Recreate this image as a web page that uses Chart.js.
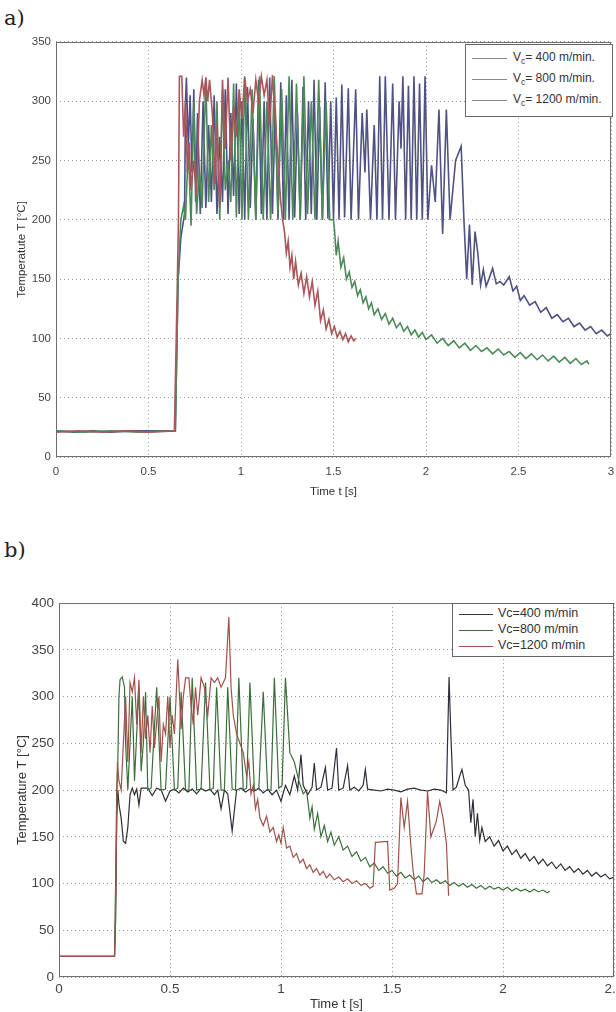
<!DOCTYPE html>
<html lang="en">
<head>
<meta charset="UTF-8">
<title>Temperature vs time</title>
<script src="https://cdn.jsdelivr.net/npm/chart.js@4.4.0/dist/chart.umd.min.js"></script>
<style>
  html, body { margin: 0; padding: 0; background: #fff; overflow: hidden; width: 616px; height: 1012px; }
  .wrap { position: absolute; left: 0; width: 630px; }
  .tag { position: absolute; left: 4px; font: 21px "DejaVu Serif", "Liberation Serif", serif; color: #222; }
  .legend { position: absolute; background: #fff; border: 1px solid #666; font-family: "Liberation Sans", Arial, sans-serif; color: #333; }
  .legend div { position: relative; white-space: nowrap; }
  .legend span.ln { position: absolute; height: 0; border-top: 1px solid #888; }
  sub { font-size: 70%; vertical-align: -3px; line-height: 0; }
</style>
</head>
<body>
<div class="tag" style="top:6px">a)</div>
<div class="wrap" style="top:30px;height:469px"><canvas id="chartA"></canvas></div>
<div class="legend" style="left:465px;top:44px;width:146px;height:71px;font-size:12px">
  <div style="top:5px"><span class="ln" style="left:6px;width:35px;top:8px"></span><span style="position:absolute;left:47px">V<sub>c</sub>= 400 m/min.</span></div>
  <div style="top:26px"><span class="ln" style="left:6px;width:35px;top:8px"></span><span style="position:absolute;left:47px">V<sub>c</sub>= 800 m/min.</span></div>
  <div style="top:47px"><span class="ln" style="left:6px;width:35px;top:8px"></span><span style="position:absolute;left:47px">V<sub>c</sub>= 1200 m/min.</span></div>
</div>

<div class="tag" style="top:538px">b)</div>
<div class="wrap" style="top:590px;height:422px"><canvas id="chartB"></canvas></div>
<div class="legend" style="left:452px;top:603px;width:160px;height:52px;font-size:12.5px">
  <div style="top:2px"><span class="ln" style="left:6px;width:34px;top:8px;border-color:#333"></span><span style="position:absolute;left:45px">Vc=400 m/min</span></div>
  <div style="top:18px"><span class="ln" style="left:6px;width:34px;top:8px;border-color:#3c6e3c"></span><span style="position:absolute;left:45px">Vc=800 m/min</span></div>
  <div style="top:34px"><span class="ln" style="left:6px;width:34px;top:8px;border-color:#a0524a"></span><span style="position:absolute;left:45px">Vc=1200 m/min</span></div>
</div>

<script>
// ---- chart a) : [time s, temperature C] ----
const a400 = [[0,22],[0.1,21],[0.2,22],[0.3,21],[0.4,22],[0.5,22],[0.645,22],[0.66,150],[0.675,185],[0.685,195],[0.695,205],[0.70,300],[0.705,320],[0.715,260],[0.725,305],[0.735,240],[0.745,310],[0.755,215],[0.765,290],[0.78,205],[0.795,300],[0.81,210],[0.825,280],[0.84,215],[0.855,305],[0.87,205],[0.885,270],[0.90,215],[0.915,310],[0.93,205],[0.945,290],[0.96,220],[0.975,315],[0.99,205],[1.005,300],[1.02,200],[1.035,312],[1.05,210],[1.065,285],[1.08,200],[1.095,318],[1.11,205],[1.125,300],[1.14,200],[1.155,320],[1.17,205],[1.185,295],[1.20,200],[1.215,316],[1.23,200],[1.245,305],[1.26,200],[1.275,318],[1.29,202],[1.305,290],[1.32,200],[1.335,312],[1.35,200],[1.365,300],[1.38,205],[1.395,318],[1.41,200],[1.425,295],[1.44,200],[1.455,316],[1.47,201],[1.485,300],[1.50,200],[1.515,303],[1.53,200],[1.545,314],[1.56,202],[1.58,311],[1.595,200],[1.62,310],[1.635,200],[1.655,290],[1.67,240],[1.68,293],[1.70,200],[1.72,280],[1.735,200],[1.75,321],[1.765,200],[1.78,321],[1.80,200],[1.82,315],[1.835,200],[1.855,300],[1.865,260],[1.875,321],[1.89,200],[1.905,313],[1.92,200],[1.935,321],[1.95,200],[1.965,315],[1.98,200],[1.995,321],[2.01,200],[2.03,246],[2.05,215],[2.07,293],[2.09,188],[2.11,293],[2.13,200],[2.16,250],[2.19,262],[2.205,200],[2.22,150],[2.235,196],[2.25,145],[2.265,190],[2.28,172],[2.295,145],[2.31,158],[2.325,144],[2.34,150],[2.36,159],[2.38,146],[2.40,148],[2.42,145],[2.45,152],[2.47,140],[2.49,144],[2.51,132],[2.53,136],[2.56,128],[2.59,131],[2.62,122],[2.65,126],[2.68,117],[2.71,120],[2.74,114],[2.77,117],[2.80,110],[2.83,113],[2.86,107],[2.89,110],[2.92,104],[2.95,107],[2.98,102],[3.0,104]];

const a800 = [[0,22],[0.15,21],[0.3,22],[0.45,21],[0.6,22],[0.645,22],[0.66,150],[0.675,200],[0.69,212],[0.70,200],[0.715,262],[0.73,195],[0.745,300],[0.76,205],[0.775,240],[0.79,210],[0.81,320],[0.825,215],[0.84,280],[0.855,225],[0.87,300],[0.885,200],[0.90,310],[0.915,225],[0.93,250],[0.945,215],[0.96,315],[0.975,202],[0.99,305],[1.005,200],[1.02,321],[1.04,200],[1.06,310],[1.08,200],[1.10,321],[1.12,200],[1.14,300],[1.16,200],[1.18,321],[1.20,205],[1.22,310],[1.24,200],[1.26,321],[1.28,200],[1.30,315],[1.32,200],[1.34,321],[1.36,205],[1.38,300],[1.40,200],[1.42,318],[1.44,200],[1.46,300],[1.48,200],[1.50,200],[1.505,192],[1.515,170],[1.525,182],[1.54,160],[1.555,168],[1.57,150],[1.585,156],[1.60,143],[1.615,148],[1.63,136],[1.645,141],[1.66,130],[1.675,135],[1.69,125],[1.705,130],[1.72,120],[1.74,125],[1.76,116],[1.78,121],[1.80,112],[1.82,117],[1.84,109],[1.86,113],[1.88,106],[1.90,110],[1.92,103],[1.94,107],[1.96,101],[1.98,105],[2.0,99],[2.03,103],[2.06,96],[2.09,100],[2.12,94],[2.15,98],[2.18,92],[2.21,96],[2.24,90],[2.27,94],[2.30,89],[2.33,92],[2.36,87],[2.39,91],[2.42,86],[2.45,89],[2.48,84],[2.51,88],[2.54,83],[2.57,87],[2.60,82],[2.63,86],[2.66,81],[2.69,85],[2.72,80],[2.75,84],[2.78,79],[2.81,83],[2.84,78],[2.87,81],[2.88,78]];

const a1200 = [[0,21],[0.12,22],[0.25,21],[0.38,22],[0.5,21],[0.64,22],[0.655,140],[0.662,200],[0.667,321],[0.68,321],[0.69,270],[0.70,300],[0.71,240],[0.72,265],[0.73,225],[0.745,250],[0.76,220],[0.775,300],[0.79,318],[0.80,305],[0.81,320],[0.82,300],[0.83,318],[0.845,290],[0.86,230],[0.87,280],[0.885,210],[0.90,318],[0.915,260],[0.93,320],[0.945,250],[0.96,295],[0.975,270],[0.99,310],[1.005,285],[1.02,320],[1.035,300],[1.05,310],[1.065,290],[1.08,318],[1.095,300],[1.11,321],[1.125,305],[1.14,318],[1.155,280],[1.17,322],[1.185,285],[1.20,250],[1.215,215],[1.225,200],[1.235,190],[1.245,172],[1.255,182],[1.265,160],[1.275,170],[1.285,150],[1.295,165],[1.31,145],[1.325,155],[1.34,138],[1.355,152],[1.37,135],[1.385,148],[1.40,128],[1.415,140],[1.43,115],[1.445,124],[1.46,108],[1.475,116],[1.49,104],[1.505,110],[1.52,101],[1.535,106],[1.55,99],[1.565,104],[1.58,97],[1.595,102],[1.61,98],[1.62,100]];

// ---- chart b) ----
const b400 = [[0,22],[0.1,22],[0.2,22],[0.25,22],[0.255,60],[0.26,170],[0.265,200],[0.27,185],[0.28,170],[0.29,145],[0.30,143],[0.31,160],[0.32,195],[0.33,202],[0.34,195],[0.35,201],[0.36,184],[0.37,202],[0.40,202],[0.42,194],[0.44,202],[0.46,200],[0.48,188],[0.50,199],[0.52,201],[0.54,197],[0.56,202],[0.58,198],[0.60,201],[0.62,196],[0.64,202],[0.66,199],[0.68,201],[0.70,195],[0.715,200],[0.73,180],[0.745,200],[0.76,196],[0.78,156],[0.80,200],[0.82,202],[0.84,198],[0.86,201],[0.88,199],[0.90,202],[0.92,197],[0.94,201],[0.96,195],[0.98,200],[1.00,188],[1.02,205],[1.04,195],[1.06,215],[1.075,200],[1.09,238],[1.10,205],[1.12,195],[1.14,203],[1.15,229],[1.16,200],[1.18,203],[1.20,224],[1.21,200],[1.23,202],[1.25,245],[1.26,200],[1.28,202],[1.30,226],[1.31,200],[1.33,203],[1.35,199],[1.37,205],[1.38,222],[1.39,201],[1.42,200],[1.45,199],[1.48,201],[1.51,200],[1.54,198],[1.57,201],[1.60,202],[1.63,200],[1.66,199],[1.69,201],[1.72,200],[1.745,197],[1.757,321],[1.765,260],[1.775,200],[1.79,203],[1.805,215],[1.815,222],[1.83,205],[1.845,200],[1.855,165],[1.865,190],[1.875,150],[1.885,175],[1.895,146],[1.905,160],[1.92,145],[1.94,150],[1.96,140],[1.98,146],[2.00,135],[2.02,140],[2.04,131],[2.06,136],[2.08,127],[2.10,132],[2.12,124],[2.14,129],[2.16,121],[2.18,126],[2.20,119],[2.22,123],[2.24,116],[2.26,121],[2.28,114],[2.30,118],[2.32,112],[2.34,116],[2.36,110],[2.38,114],[2.40,108],[2.42,112],[2.44,107],[2.46,110],[2.48,105],[2.50,107]];

const b800 = [[0,22],[0.1,22],[0.2,22],[0.25,22],[0.255,100],[0.26,200],[0.265,230],[0.27,300],[0.275,318],[0.285,321],[0.295,310],[0.30,250],[0.31,200],[0.32,250],[0.33,300],[0.34,210],[0.35,260],[0.36,310],[0.37,220],[0.38,250],[0.39,305],[0.40,200],[0.415,202],[0.44,310],[0.46,200],[0.48,201],[0.50,300],[0.52,200],[0.535,202],[0.55,305],[0.57,200],[0.585,200],[0.60,320],[0.62,200],[0.64,201],[0.66,315],[0.68,200],[0.695,202],[0.71,310],[0.73,200],[0.745,200],[0.76,310],[0.78,201],[0.795,200],[0.81,320],[0.83,200],[0.845,202],[0.86,315],[0.88,200],[0.90,201],[0.92,305],[0.94,200],[0.955,200],[0.97,320],[0.99,202],[1.005,205],[1.02,320],[1.04,240],[1.06,230],[1.08,210],[1.10,196],[1.115,200],[1.13,170],[1.14,182],[1.15,158],[1.165,175],[1.18,150],[1.195,162],[1.21,145],[1.225,155],[1.24,141],[1.26,150],[1.28,136],[1.30,140],[1.32,129],[1.34,134],[1.36,124],[1.38,128],[1.40,118],[1.42,122],[1.44,114],[1.46,118],[1.48,111],[1.50,114],[1.52,108],[1.54,112],[1.56,106],[1.58,109],[1.60,104],[1.62,108],[1.64,102],[1.66,106],[1.68,101],[1.70,104],[1.72,100],[1.74,103],[1.76,98],[1.78,101],[1.80,97],[1.82,100],[1.84,96],[1.86,99],[1.88,95],[1.90,98],[1.92,94],[1.94,97],[1.96,94],[1.98,96],[2.00,93],[2.02,96],[2.04,92],[2.06,95],[2.08,92],[2.10,94],[2.12,91],[2.14,94],[2.16,91],[2.18,93],[2.20,90],[2.21,92]];

const b1200 = [[0,22],[0.1,22],[0.2,22],[0.25,22],[0.253,45],[0.258,130],[0.263,230],[0.27,210],[0.28,200],[0.29,250],[0.30,300],[0.31,230],[0.32,315],[0.33,305],[0.34,320],[0.35,270],[0.36,318],[0.37,240],[0.38,300],[0.39,255],[0.40,280],[0.41,240],[0.42,290],[0.43,245],[0.45,300],[0.46,230],[0.47,270],[0.48,260],[0.49,300],[0.50,245],[0.51,280],[0.52,260],[0.535,340],[0.55,265],[0.56,300],[0.57,320],[0.585,320],[0.595,290],[0.605,270],[0.615,310],[0.625,280],[0.64,320],[0.655,310],[0.67,280],[0.685,320],[0.70,315],[0.715,320],[0.73,310],[0.75,320],[0.765,385],[0.775,310],[0.785,280],[0.80,260],[0.815,250],[0.83,240],[0.845,215],[0.855,230],[0.865,196],[0.875,205],[0.885,180],[0.895,190],[0.905,170],[0.92,162],[0.935,172],[0.95,155],[0.965,160],[0.98,145],[0.99,152],[1.00,143],[1.01,160],[1.025,138],[1.04,140],[1.055,128],[1.07,132],[1.085,122],[1.10,126],[1.115,116],[1.13,120],[1.145,112],[1.16,116],[1.175,109],[1.19,113],[1.205,106],[1.22,110],[1.24,104],[1.26,107],[1.28,102],[1.30,105],[1.32,100],[1.34,103],[1.36,98],[1.38,100],[1.40,95],[1.415,97],[1.425,144],[1.48,145],[1.49,93],[1.51,95],[1.525,100],[1.54,192],[1.555,160],[1.57,188],[1.585,140],[1.595,114],[1.61,89],[1.635,89],[1.645,110],[1.66,199],[1.675,150],[1.69,160],[1.70,167],[1.715,188],[1.73,170],[1.745,143],[1.755,87]];

const frame = {
  id: 'frame',
  afterDraw(chart) {
    const a = chart.chartArea, ctx = chart.ctx;
    ctx.save();
    ctx.strokeStyle = '#6e6e6e';
    ctx.lineWidth = 1;
    ctx.strokeRect(Math.round(a.left) + 0.5, Math.round(a.top) + 0.5, Math.round(a.width) - 1, Math.round(a.height) - 1);
    ctx.restore();
  }
};

function toXY(arr) { return arr.map(p => ({ x: p[0], y: p[1] })); }

function line(arr, color, w) {
  return { data: toXY(arr), borderColor: color, borderWidth: w, pointRadius: 0, showLine: true, tension: 0, fill: false };
}

// matlab style tick text: 0, 0.5, 1, 1.5 ...
const tickText = v => String(Math.round(v * 10) / 10);

function build(id, sets, o) {
  new Chart(document.getElementById(id), {
    type: 'scatter',
    data: { datasets: sets },
    options: {
      responsive: true, maintainAspectRatio: false, animation: false,
      layout: { padding: { top: o.padTop, right: o.padRight, left: 0, bottom: 0 } },
      plugins: { legend: { display: false }, tooltip: { enabled: false } },
      scales: {
        x: {
          type: 'linear', min: 0, max: o.xmax,
          afterFit: s => { s.height = o.xh; },
          ticks: { stepSize: 0.5, padding: o.xpad, color: '#444', font: { family: 'Liberation Sans', size: o.fs }, maxRotation: 0, callback: tickText },
          grid: { color: '#9a9a9a', drawTicks: false },
          border: { display: false, dash: [1, 3] },
          title: { display: true, text: 'Time t [s]', color: '#333', font: { family: 'Liberation Sans', size: o.tfs }, padding: { top: o.xtpad, bottom: 0 } }
        },
        y: {
          min: 0, max: o.ymax,
          afterFit: s => { s.width = o.yw; },
          ticks: { stepSize: 50, padding: 5, color: '#444', font: { family: 'Liberation Sans', size: o.fs } },
          grid: { color: '#9a9a9a', drawTicks: false },
          border: { display: false, dash: [1, 3] },
          title: { display: true, text: o.ytitle, color: '#333', font: { family: 'Liberation Sans', size: o.tfs }, padding: { top: 15, bottom: 0 } }
        }
      }
    },
    plugins: [frame]
  });
}

build('chartA', [
  line(a1200, '#a8575a', 1.6),
  line(a800, '#4d8a5a', 1.6),
  line(a400, '#4f5283', 1.6)
], { xmax: 3, ymax: 350, xh: 42, yw: 56, padTop: 9, padRight: 19, fs: 11.5, tfs: 11.5, xpad: 8, xtpad: 0, ytitle: 'Temperatute T [°C]' });

build('chartB', [
  line(b1200, '#a0524a', 1.2),
  line(b800, '#3c6e3c', 1.2),
  line(b400, '#2e2e38', 1.2)
], { xmax: 2.5, ymax: 400, xh: 35, yw: 59, padTop: 11, padRight: 16, fs: 13.5, tfs: 13, xpad: 4, xtpad: 0, ytitle: 'Temperature T [°C]' });
</script>
</body>
</html>
